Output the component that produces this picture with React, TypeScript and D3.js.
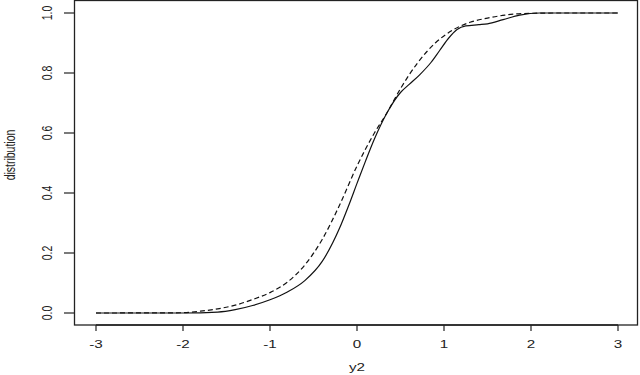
import React from "react";
import * as d3 from "d3";

const xTicks = [-3, -2, -1, 0, 1, 2, 3];
const yTicks = [0, 0.2, 0.4, 0.6, 0.8, 1.0];
const yTickLabels = ["0.0", "0.2", "0.4", "0.6", "0.8", "1.0"];

const solidX = [-3, -2, -1.6, -1.4, -1.2, -1.0, -0.8, -0.6, -0.4, -0.2, -0.1, 0, 0.1, 0.2, 0.35, 0.5, 0.6, 0.72, 0.85, 0.95, 1.05, 1.15, 1.25, 1.4, 1.5, 1.68, 1.87, 2.1, 2.5, 3];
const solidY = [0, 0, 0.003, 0.011, 0.025, 0.044, 0.07, 0.108, 0.172, 0.283, 0.355, 0.432, 0.508, 0.58, 0.67, 0.735, 0.762, 0.794, 0.835, 0.875, 0.915, 0.945, 0.957, 0.961, 0.964, 0.978, 0.993, 1.0, 1.0, 1.0];

const dashX = [-3, -2.2, -2.0, -1.8, -1.6, -1.4, -1.2, -1.0, -0.8, -0.6, -0.4, -0.2, 0, 0.2, 0.35, 0.5, 0.7, 0.9, 1.1, 1.3, 1.5, 1.7, 2.0, 2.3, 3];
const dashY = [0, 0.0005, 0.001, 0.006, 0.014, 0.026, 0.045, 0.068, 0.103, 0.16, 0.245, 0.36, 0.49, 0.6, 0.67, 0.748, 0.835, 0.9, 0.943, 0.969, 0.983, 0.993, 0.999, 1.0, 1.0];

const W = 640;
const H = 375;
const box = { left: 74.5, right: 637.5, top: 0.5, bottom: 325 };
const SX = 1.45;
const FS = 10.5;
const FONT = "'Liberation Sans', Arial, Helvetica, sans-serif";

export default function App() {
  const x = d3.scaleLinear().domain([-3, 3]).range([96, 618]);
  const y = d3.scaleLinear().domain([0, 1]).range([313, 13]);
  const line = d3
    .line<[number, number]>()
    .x((d) => x(d[0]))
    .y((d) => y(d[1]))
    .curve(d3.curveMonotoneX);
  const solid = line(solidX.map((v, i) => [v, solidY[i]] as [number, number])) || "";
  const dashed = line(dashX.map((v, i) => [v, dashY[i]] as [number, number])) || "";

  return (
    <div style={{ position: "fixed", left: 0, top: 0 }}>
      <svg width={W} height={H} style={{ display: "block", background: "#fff" }}>
        <rect
          x={box.left}
          y={box.top}
          width={box.right - box.left}
          height={box.bottom - box.top}
          fill="none"
          stroke="#222"
          strokeWidth={1.3}
        />
        {xTicks.map((t) => (
          <g key={"x" + t}>
            <line x1={x(t)} x2={x(t)} y1={box.bottom} y2={331} stroke="#222" strokeWidth={1.2} />
            <text
              transform={`translate(${x(t)},348) scale(${SX},1)`}
              textAnchor="middle"
              fontSize={FS}
              fontFamily={FONT}
              fill="#222"
            >
              {t}
            </text>
          </g>
        ))}
        <line x1={x(-3)} x2={x(3)} y1={box.bottom} y2={box.bottom} stroke="#222" strokeWidth={1.3} />
        {yTicks.map((t, i) => (
          <g key={"y" + t}>
            <line x1={64} x2={box.left} y1={y(t)} y2={y(t)} stroke="#222" strokeWidth={1.2} />
            <text
              transform={`translate(51.5,${y(t)}) scale(${SX},1) rotate(-90)`}
              textAnchor="middle"
              fontSize={FS}
              fontFamily={FONT}
              fill="#222"
            >
              {yTickLabels[i]}
            </text>
          </g>
        ))}
        <text
          transform={`translate(${x(0)},371) scale(${SX},1)`}
          textAnchor="middle"
          fontSize={FS}
          fontFamily={FONT}
          fill="#222"
        >
          y2
        </text>
        <text
          transform={`translate(15,155) scale(${SX},1) rotate(-90)`}
          textAnchor="middle"
          fontSize={FS}
          fontFamily={FONT}
          fill="#222"
        >
          distribution
        </text>
        <path d={dashed} fill="none" stroke="#111" strokeWidth={1.2} strokeDasharray="5,3" />
        <path d={solid} fill="none" stroke="#111" strokeWidth={1.2} />
      </svg>
    </div>
  );
}
